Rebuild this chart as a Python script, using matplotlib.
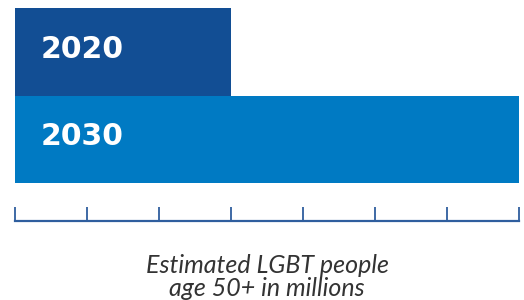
import numpy as np
import matplotlib.pyplot as plt

# datos
anios = ["2030", "2020"]
millones = [7, 3]
colores = ["#007ac3", "#124e94"]
ticks = np.arange(0, 8)

fig = plt.figure(figsize=(5.24, 3.0), dpi=100)
ax = fig.add_axes([15/524, 1 - 221/300, 504/524, 213/300])

pos = np.arange(len(anios))
ax.barh(pos, millones, height=1.0, color=colores, align="center")

for p, a in zip(pos, anios):
	ax.text(0.35, p + 0.03, a, color="white", fontsize=21.5, fontweight="bold",
		family="DejaVu Sans", va="center", ha="left")

ax.set_xlim(0, 7)
ax.set_ylim(-0.93, 1.5)
ax.set_xticks(ticks)
ax.set_xticklabels([])
ax.set_yticks([])
for s in ["top", "right", "left"]:
	ax.spines[s].set_visible(False)
ax.spines["bottom"].set_color("#2f5e9e")
ax.spines["bottom"].set_linewidth(1.6)
ax.tick_params(axis="x", direction="in", length=10, width=1.3, color="#2f5e9e")

fig.text(267/524, 1 - 277/300, "Estimated LGBT people\nage 50+ in millions",
	ha="center", va="center", fontsize=18, style="italic", fontweight="normal",
	color="#333333", family=["Lato", "DejaVu Sans"], linespacing=1.0)

fig.savefig("out.png", dpi=100)
